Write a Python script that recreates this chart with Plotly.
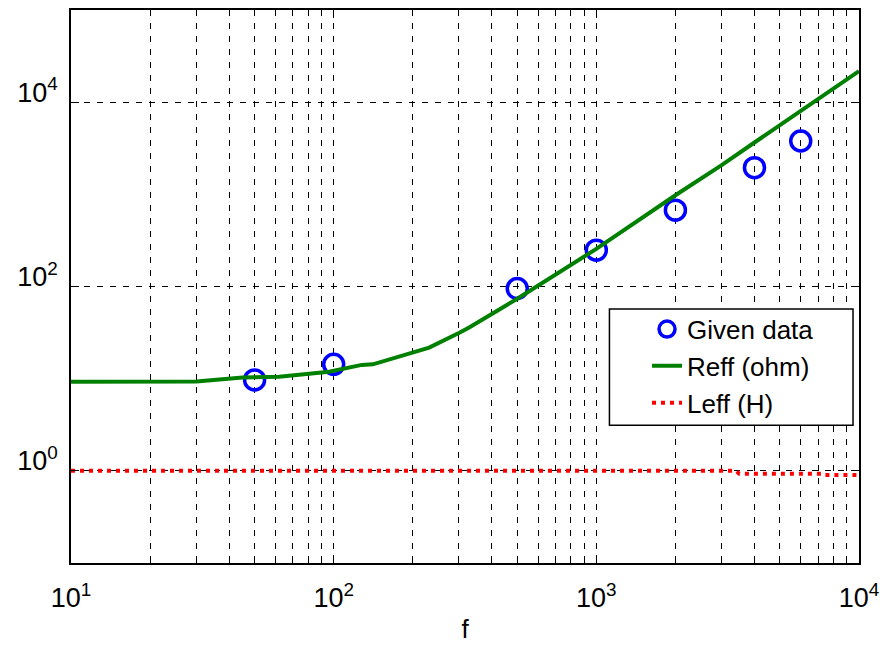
import plotly.graph_objects as go

# Given data (circles)
f_data = [50, 100, 500, 1000, 2000, 4000, 6000]
r_data = [9.7, 14.3, 95, 248, 673, 1946, 3790]

# Reff (ohm) curve
f_reff = [10, 20, 30, 45, 62, 96, 128, 141, 212, 231, 301, 328, 500, 1000, 2000, 3000, 4000, 5900, 10000]
r_reff = [9.27, 9.27, 9.3, 10.3, 10.5, 11.9, 14.1, 14.3, 20.5, 21.7, 31.5, 36, 73.6, 256, 977, 2070, 3650, 7680, 21700]

# Leff (H) curve
f_leff = [10, 100, 1000, 3400, 3500, 7300, 7400, 10000]
l_leff = [1.0, 1.0, 1.0, 1.0, 0.93, 0.93, 0.9, 0.9]

x_major = [10, 100, 1000, 10000]
x_major_text = ["10<sup>1</sup>", "10<sup>2</sup>", "10<sup>3</sup>", "10<sup>4</sup>"]
x_minor = [m * d for d in (10, 100, 1000) for m in range(2, 10)]
y_major = [1, 100, 10000]
y_major_text = ["10<sup>0</sup>", "10<sup>2</sup>", "10<sup>4</sup>"]

FONT = "Liberation Sans, Arial, sans-serif"

fig = go.Figure()
fig.add_trace(go.Scatter(
    x=f_data, y=r_data, mode="markers", name="Given data",
    marker=dict(symbol="circle-open", size=20, color="#0000ff", line=dict(width=3.5, color="#0000ff")),
))
fig.add_trace(go.Scatter(
    x=f_reff, y=r_reff, mode="lines", name="Reff (ohm)",
    line=dict(color="#008000", width=4),
))
fig.add_trace(go.Scatter(
    x=f_leff, y=l_leff, mode="lines", name="Leff (H)",
    line=dict(color="#ff0000", width=4, dash="4px,5px"),
))

grid_common = dict(gridcolor="black", gridwidth=1, griddash="6px,7px")

fig.update_xaxes(
    type="log", range=[1, 4],
    tickvals=x_major, ticktext=x_major_text,
    showgrid=True, **grid_common,
    minor=dict(tickvals=x_minor, showgrid=True, gridcolor="black", gridwidth=1, griddash="6px,7px",
               ticks="inside", ticklen=5, tickcolor="black"),
    ticks="inside", ticklen=8, tickcolor="black",
    showline=True, linecolor="black", linewidth=1.5, mirror="allticks",
    zeroline=False,
    tickfont=dict(family=FONT, size=27, color="black"),
    ticklabelstandoff=10,
    title=dict(text="f", font=dict(family=FONT, size=26, color="black"), standoff=8),
)
fig.update_yaxes(
    type="log", range=[-1, 5],
    tickvals=y_major, ticktext=y_major_text,
    showgrid=True, **grid_common,
    ticks="inside", ticklen=8, tickcolor="black",
    showline=True, linecolor="black", linewidth=1.5, mirror="allticks",
    zeroline=False,
    tickfont=dict(family=FONT, size=27, color="black"),
    ticklabelstandoff=6,
    ticklabelshift=-10,
)

# legend frame
fig.add_shape(type="rect", xref="paper", yref="paper",
              x0=0.6833, x1=0.9924, y0=0.2489, y1=0.4593,
              line=dict(color="black", width=1.5), fillcolor="white", layer="above")

fig.update_layout(
    width=887, height=648,
    margin=dict(l=71, r=26, t=8, b=85),
    paper_bgcolor="white", plot_bgcolor="white",
    font=dict(family=FONT, color="black"),
    legend=dict(
        x=0.731, y=0.4654, xanchor="left", yanchor="top",
        bgcolor="rgba(0,0,0,0)", borderwidth=0,
        font=dict(family=FONT, size=26, color="black"),
    ),
    showlegend=True,
)

fig.write_html("out.html")
